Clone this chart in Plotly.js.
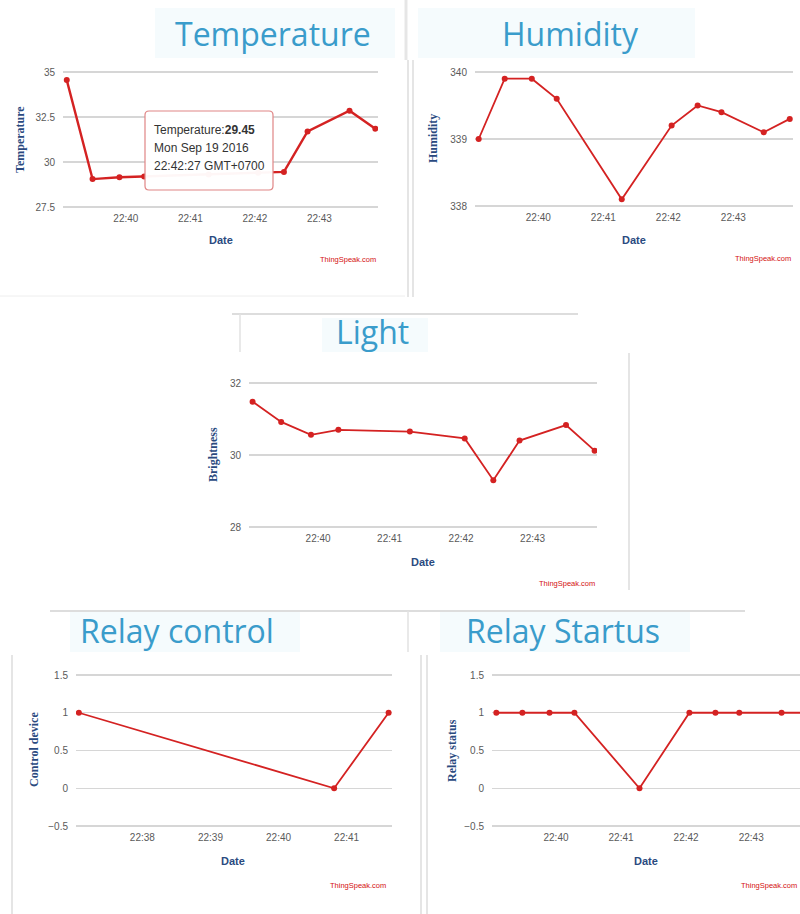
<!DOCTYPE html>
<html>
<head>
<meta charset="utf-8">
<script src="https://cdn.plot.ly/plotly-3.0.1.min.js"></script>
<style>
  html, body { margin: 0; padding: 0; background: #ffffff; }
  #chart { width: 800px; height: 914px; }
</style>
</head>
<body>
<div id="chart"></div>
<script>
// ---------------- DATA ----------------
const times = ['2016-09-19 22:39:05','2016-09-19 22:39:29','2016-09-19 22:39:54','2016-09-19 22:40:17',
               '2016-09-19 22:41:17','2016-09-19 22:42:03','2016-09-19 22:42:27','2016-09-19 22:42:49',
               '2016-09-19 22:43:28','2016-09-19 22:43:52'];
const temperature = [34.55, 29.05, 29.15, 29.2, 29.3, 29.4, 29.45, 31.7, 32.85, 31.85];
const humidity    = [339.0, 339.9, 339.9, 339.6, 338.1, 339.2, 339.5, 339.4, 339.1, 339.3];
const brightness  = [31.48, 30.92, 30.56, 30.7, 30.65, 30.46, 29.3, 30.4, 30.83, 30.12];
const controlTimes  = ['2016-09-19 22:37:04','2016-09-19 22:40:49','2016-09-19 22:41:37'];
const controlValues = [1, 0, 1];
const statusValues  = [1, 1, 1, 1, 0, 1, 1, 1, 1, 1];

const panelTitles = ['Temperature', 'Humidity', 'Light', 'Relay control', 'Relay Startus'];
const yTitles = ['Temperature', 'Humidity', 'Brightness', 'Control device', 'Relay status'];
const xTitle = 'Date';
const credit = 'ThingSpeak.com';
const tooltipLines = ['Temperature:<b>29.45</b>', 'Mon Sep 19 2016', '22:42:27 GMT+0700'];

// ---------------- HELPERS ----------------
const W = 800, H = 914;
const px = v => v / W;
const py = v => 1 - v / H;

const RED = '#d42222';
const AXIS_BLUE = '#2a4a7f';
const TITLE_BLUE = '#3a9ccb';
const GRID = '#d6d6d6';
const TICK_FONT = {family: 'Liberation Sans, Arial, sans-serif', size: 10, color: '#5a5a5a'};

function lineTrace(x, y, n, width) {
  return {
    x: x, y: y, type: 'scatter', mode: 'lines+markers',
    xaxis: n === 1 ? 'x' : 'x' + n, yaxis: n === 1 ? 'y' : 'y' + n,
    line: {color: RED, width: width},
    marker: {color: RED, size: 6},
    hoverinfo: 'skip', showlegend: false
  };
}

const data = [
  lineTrace(times, temperature, 1, 2.4),
  lineTrace(times, humidity, 2, 1.8),
  lineTrace(times, brightness, 3, 1.8),
  lineTrace(controlTimes, controlValues, 4, 1.8),
  lineTrace(times, statusValues, 5, 1.8)
];

// panel geometry in page pixels: [left, right, top-gridline, bottom-gridline]
const boxes = [
  [63, 378, 72, 207],
  [475, 793, 72, 206],
  [249, 597, 383, 527],
  [76, 392, 675, 826],
  [492, 800, 675, 826]
];
const yRanges = [[27.5, 35], [338, 340], [28, 32], [-0.5, 1.5], [-0.5, 1.5]];
const yDticks = [2.5, 1, 2, 0.5, 0.5];
const xRanges = [
  ['2016-09-19 22:39:01.5', '2016-09-19 22:43:54.5'],
  ['2016-09-19 22:39:01.6', '2016-09-19 22:43:55'],
  ['2016-09-19 22:39:02', '2016-09-19 22:43:54'],
  ['2016-09-19 22:37:01.5', '2016-09-19 22:41:40'],
  ['2016-09-19 22:39:01', '2016-09-19 22:43:45']
];
const PAD = 4; // extra px so the outermost gridlines sit inside the plot area

const layout = {
  width: W, height: H,
  margin: {l: 0, r: 0, t: 0, b: 0},
  paper_bgcolor: '#ffffff', plot_bgcolor: 'rgba(0,0,0,0)',
  hovermode: false,
  shapes: [], annotations: []
};

boxes.forEach((b, i) => {
  const n = i + 1;
  const xa = n === 1 ? 'xaxis' : 'xaxis' + n;
  const ya = n === 1 ? 'yaxis' : 'yaxis' + n;
  const r = yRanges[i];
  const perPx = (r[1] - r[0]) / (b[3] - b[2]);
  layout[xa] = {
    domain: [px(b[0]), Math.min(1, px(b[1]))],
    anchor: n === 1 ? 'y' : 'y' + n,
    type: 'date', range: xRanges[i],
    tickformat: '%H:%M', dtick: 60000, tick0: '2016-09-19 22:00:00',
    showgrid: false, zeroline: false, showline: false, ticks: '',
    ticklabelstandoff: 0,
    tickfont: TICK_FONT, fixedrange: true
  };
  layout[ya] = {
    domain: [py(b[3] + PAD), py(b[2] - PAD)],
    anchor: n === 1 ? 'x' : 'x' + n,
    range: [r[0] - PAD * perPx, r[1] + PAD * perPx], dtick: yDticks[i], tick0: 0,
    showgrid: true, gridcolor: GRID, gridwidth: 1.4,
    zeroline: false, showline: false, ticks: '',
    ticklabelstandoff: 7,
    tickfont: TICK_FONT, fixedrange: true
  };
});

// y-axis titles (rotated) and x-axis titles
const yTitlePos = [[20, 140], [433, 139], [213, 455], [34, 750], [452, 750]];
const xTitlePos = [[221, 240], [634, 240], [423, 562], [233, 861], [646, 861]];
const creditPos = [[378, 260], [793, 259], [597, 583], [388, 885], [799, 885]];
yTitlePos.forEach((p, i) => {
  layout.annotations.push({
    xref: 'paper', yref: 'paper', x: px(p[0]), y: py(p[1]),
    text: '<b>' + yTitles[i] + '</b>', textangle: -90, showarrow: false,
    xanchor: 'center', yanchor: 'middle',
    font: {family: 'Liberation Serif, Times New Roman, serif', size: 12, color: AXIS_BLUE}
  });
});
xTitlePos.forEach((p, i) => {
  layout.annotations.push({
    xref: 'paper', yref: 'paper', x: px(p[0]), y: py(p[1]),
    text: '<b>' + xTitle + '</b>', showarrow: false,
    xanchor: 'center', yanchor: 'middle',
    font: {family: 'Liberation Sans, Arial, sans-serif', size: 11, color: AXIS_BLUE}
  });
});
creditPos.forEach((p, i) => {
  layout.annotations.push({
    xref: 'paper', yref: 'paper', x: px(p[0]), y: py(p[1]),
    text: credit, showarrow: false,
    xanchor: 'right', yanchor: 'middle',
    font: {family: 'Liberation Sans, Arial, sans-serif', size: 7.5, color: '#d41010'}
  });
});

// panel title glow boxes
const glowBoxes = [[155, 395, 8, 58], [418, 695, 8, 58], [322, 428, 318, 352], [70, 300, 612, 652], [440, 690, 612, 652]];
glowBoxes.forEach(g => {
  layout.shapes.push({
    type: 'rect', xref: 'paper', yref: 'paper', layer: 'below',
    x0: px(g[0]), x1: px(g[1]), y0: py(g[3]), y1: py(g[2]),
    fillcolor: 'rgba(232,246,251,0.45)', line: {width: 0}
  });
});

// panel titles
const titlePos = [[273, 34], [570, 34], [372, 331], [177, 630], [563, 630]];
titlePos.forEach((p, i) => {
  layout.annotations.push({
    xref: 'paper', yref: 'paper', x: px(p[0]), y: py(p[1]),
    text: panelTitles[i], showarrow: false,
    xanchor: 'center', yanchor: 'middle',
    font: {family: 'Open Sans, Noto Sans, sans-serif', size: 32, color: TITLE_BLUE}
  });
});

// frame lines of the screenshot collage
const frameLines = [
  [406, 0, 406, 60, 3, '#e6e6e6'],
  [408, 60, 408, 297, 1.5, '#dcdcdc'],
  [413, 60, 413, 297, 1.5, '#dcdcdc'],
  [0, 296, 405, 296, 1, '#eeeeee'],
  [232, 314, 578, 314, 2, '#dddddd'],
  [240, 314, 240, 352, 1.5, '#e2e2e2'],
  [629, 353, 629, 590, 1.5, '#dddddd'],
  [50, 611, 745, 611, 2, '#dddddd'],
  [408, 611, 408, 652, 1.5, '#e2e2e2'],
  [12, 655, 12, 914, 1.5, '#dddddd'],
  [421, 655, 421, 914, 1.5, '#dddddd'],
  [427, 655, 427, 914, 1.5, '#dddddd']
];
frameLines.forEach(l => {
  layout.shapes.push({
    type: 'line', xref: 'paper', yref: 'paper', layer: 'below',
    x0: px(l[0]), y0: py(l[1]), x1: px(l[2]), y1: py(l[3]),
    line: {color: l[5], width: l[4]}
  });
});

// tooltip on the temperature chart: rounded box + three text lines
const tx0 = 145, tx1 = 273, ty0 = 111, ty1 = 190, rr = 4;
layout.shapes.push({
  type: 'path', xref: 'paper', yref: 'paper', layer: 'above',
  path: 'M ' + px(tx0 + rr) + ' ' + py(ty0) +
        ' L ' + px(tx1 - rr) + ' ' + py(ty0) +
        ' Q ' + px(tx1) + ' ' + py(ty0) + ' ' + px(tx1) + ' ' + py(ty0 + rr) +
        ' L ' + px(tx1) + ' ' + py(ty1 - rr) +
        ' Q ' + px(tx1) + ' ' + py(ty1) + ' ' + px(tx1 - rr) + ' ' + py(ty1) +
        ' L ' + px(tx0 + rr) + ' ' + py(ty1) +
        ' Q ' + px(tx0) + ' ' + py(ty1) + ' ' + px(tx0) + ' ' + py(ty1 - rr) +
        ' L ' + px(tx0) + ' ' + py(ty0 + rr) +
        ' Q ' + px(tx0) + ' ' + py(ty0) + ' ' + px(tx0 + rr) + ' ' + py(ty0) + ' Z',
  fillcolor: 'rgba(255,255,255,0.96)', line: {color: '#e08585', width: 1.2}
});
const tipY = [130, 148, 166];
tooltipLines.forEach((t, i) => {
  layout.annotations.push({
    xref: 'paper', yref: 'paper', x: px(152), y: py(tipY[i]),
    xanchor: 'left', yanchor: 'middle', align: 'left', showarrow: false,
    text: t,
    font: {family: 'Liberation Sans, Arial, sans-serif', size: 12, color: '#333333'}
  });
});

Plotly.newPlot('chart', data, layout, {displayModeBar: false, staticPlot: true});
</script>
</body>
</html>
